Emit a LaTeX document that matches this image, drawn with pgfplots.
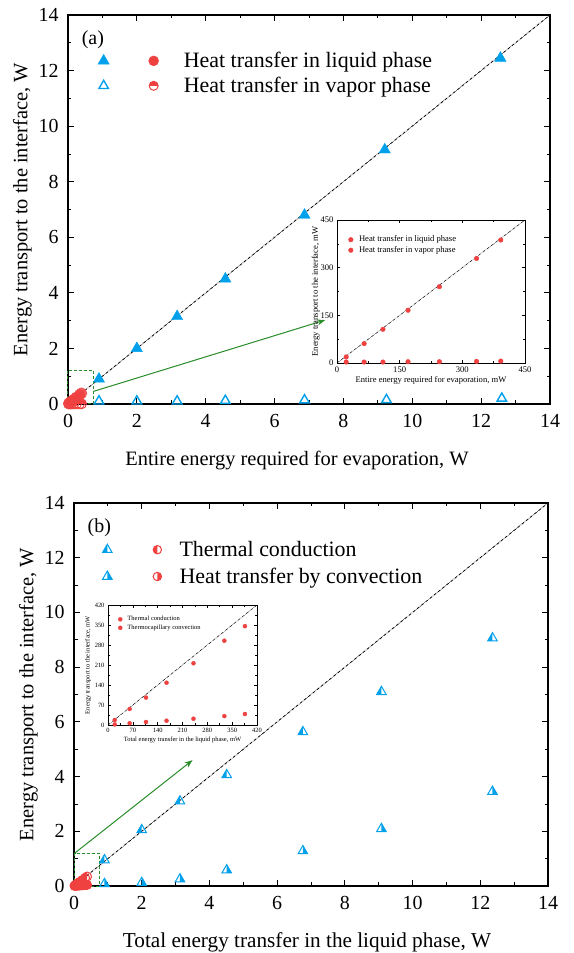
\documentclass[border=0pt]{standalone}
\usepackage{fontspec}
\setmainfont{Liberation Serif}
\usepackage{pgfplots}
\pgfplotsset{compat=1.18}
\usetikzlibrary{plotmarks,arrows.meta}
\definecolor{tblue}{RGB}{0,160,235}
\definecolor{tred}{RGB}{240,65,65}
\definecolor{tgreen}{RGB}{40,140,40}
\newcommand\fs[1]{\fontsize{#1}{#1}\selectfont}
% half-filled triangles
\pgfdeclareplotmark{triL}{%
 \pgfpathmoveto{\pgfqpoint{0pt}{\pgfplotmarksize}}%
 \pgfpathlineto{\pgfqpoint{-.866\pgfplotmarksize}{-.5\pgfplotmarksize}}%
 \pgfpathlineto{\pgfqpoint{0pt}{-.5\pgfplotmarksize}}%
 \pgfpathclose\pgfusepathqfill
 \pgfpathmoveto{\pgfqpoint{0pt}{\pgfplotmarksize}}%
 \pgfpathlineto{\pgfqpoint{-.866\pgfplotmarksize}{-.5\pgfplotmarksize}}%
 \pgfpathlineto{\pgfqpoint{.866\pgfplotmarksize}{-.5\pgfplotmarksize}}%
 \pgfpathclose\pgfusepathqstroke}
\pgfdeclareplotmark{triR}{%
 \pgfpathmoveto{\pgfqpoint{0pt}{\pgfplotmarksize}}%
 \pgfpathlineto{\pgfqpoint{.866\pgfplotmarksize}{-.5\pgfplotmarksize}}%
 \pgfpathlineto{\pgfqpoint{0pt}{-.5\pgfplotmarksize}}%
 \pgfpathclose\pgfusepathqfill
 \pgfpathmoveto{\pgfqpoint{0pt}{\pgfplotmarksize}}%
 \pgfpathlineto{\pgfqpoint{-.866\pgfplotmarksize}{-.5\pgfplotmarksize}}%
 \pgfpathlineto{\pgfqpoint{.866\pgfplotmarksize}{-.5\pgfplotmarksize}}%
 \pgfpathclose\pgfusepathqstroke}
\pgfdeclareplotmark{triO}{%
 \pgfpathmoveto{\pgfqpoint{0pt}{\pgfplotmarksize}}%
 \pgfpathlineto{\pgfqpoint{-.866\pgfplotmarksize}{-.5\pgfplotmarksize}}%
 \pgfpathlineto{\pgfqpoint{.866\pgfplotmarksize}{-.5\pgfplotmarksize}}%
 \pgfpathclose\pgfusepathqstroke}
% half-filled circles
\pgfdeclareplotmark{circL}{%
 \pgfpathmoveto{\pgfqpoint{0pt}{\pgfplotmarksize}}%
 \pgfpatharc{90}{270}{\pgfplotmarksize}%
 \pgfpathclose\pgfusepathqfill
 \pgfpathcircle{\pgfpointorigin}{\pgfplotmarksize}\pgfusepathqstroke}
\pgfdeclareplotmark{circR}{%
 \pgfpathmoveto{\pgfqpoint{0pt}{\pgfplotmarksize}}%
 \pgfpatharc{90}{-90}{\pgfplotmarksize}%
 \pgfpathclose\pgfusepathqfill
 \pgfpathcircle{\pgfpointorigin}{\pgfplotmarksize}\pgfusepathqstroke}
\pgfdeclareplotmark{circT}{%
 \pgfpathmoveto{\pgfqpoint{\pgfplotmarksize}{0pt}}%
 \pgfpatharc{0}{180}{\pgfplotmarksize}%
 \pgfpathclose\pgfusepathqfill
 \pgfpathcircle{\pgfpointorigin}{\pgfplotmarksize}\pgfusepathqstroke}

\pgfplotsset{
 mainax/.style={scale only axis, anchor=south west,
  xmin=0, xmax=14, ymin=0, ymax=14,
  xtick={0,2,...,14}, ytick={0,2,...,14}, minor tick num=1,
  tick align=inside, major tick length=6bp, minor tick length=3.5bp,
  tick style={black, line width=0.8bp},
  axis line style={line width=1.1bp},
  tick label style={font=\fs{20}},
  xticklabel style={yshift=-7bp},
  yticklabel style={xshift=-6bp},
  /pgf/number format/assume math mode=true,
  label style={font=\fs{20.5}},
  xlabel style={yshift=-16bp},
  clip=false,
  legend cell align=left,
  legend style={draw=none, fill=none, font=\fs{22}, row sep=4bp, anchor=west},
 },
 inax/.style={scale only axis, anchor=south west,
  tick align=inside, minor tick num=1,
  major tick length=3bp, minor tick length=1.8bp,
  tick style={black, line width=0.5bp},
  axis line style={line width=0.7bp},
  axis background/.style={fill=white},
  /pgf/number format/assume math mode=true,
  clip=false, legend cell align=left,
 },
}

\begin{document}
\begin{tikzpicture}
\useasboundingbox (0,0) rectangle (574bp,953bp);

% ================= (a) =================
\begin{axis}[mainax, at={(68bp,549bp)}, width=482bp, height=389bp,
  xlabel={Entire energy required for evaporation, W},
  ylabel={Energy transport to the interface, W},
  xlabel style={xshift=-12bp},
  legend style={at={(axis cs:0.78,11.9)}}]
\addlegendimage{legend image code/.code={
  \draw[tblue, fill=tblue] plot[only marks, mark=triangle*, mark size=6.5bp] coordinates {(0bp,0bp)};
  \draw[tred, fill=tred] plot[only marks, mark=*, mark size=5bp] coordinates {(50bp,0bp)};
  \path (78bp,0bp);}}
\addlegendentry{Heat transfer in liquid phase}
\addlegendimage{legend image code/.code={
  \draw[tblue, fill=white, line width=1.4bp] plot[only marks, mark=triO, mark size=5.5bp] coordinates {(0bp,0bp)};
  \draw[tred, fill=tred, line width=1bp] plot[only marks, mark=circT, mark size=4.5bp] coordinates {(50bp,0bp)};
  \path (78bp,0bp);}}
\addlegendentry{Heat transfer in vapor phase}

\addplot[black, densely dashdotted, line width=0.8bp, forget plot] coordinates {(0,0) (14,14)};
\draw[tgreen, densely dashed, line width=1bp] (axis cs:-0.02,0) rectangle (axis cs:0.73,1.2);
\draw[tgreen, line width=1bp, -{Stealth[length=8bp,width=6bp]}] (axis cs:0.73,0.45) -- (axis cs:7.47,3.02);

\addplot[only marks, mark=triangle*, mark size=6.5bp, draw=tblue, fill=tblue, forget plot]
 coordinates {(0.9,0.9) (2.0,2.0) (3.17,3.15) (4.57,4.5) (6.87,6.8) (9.2,9.15) (12.56,12.45)};
\addplot[only marks, mark=triO, mark size=5.5bp, draw=tblue, line width=1.4bp, forget plot]
 coordinates {(0.9,0.1) (2.0,0.1) (3.17,0.1) (4.57,0.12) (6.87,0.14) (9.25,0.15) (12.6,0.2)};
\addplot[only marks, mark=*, mark size=5.5bp, draw=tred, fill=tred, fill opacity=0.85, forget plot]
 coordinates {(0.022,0.019) (0.065,0.061) (0.110,0.106) (0.170,0.166) (0.245,0.240) (0.334,0.329) (0.392,0.387)};
\addplot[only marks, mark=circT, mark size=5bp, draw=tred, fill=tred, line width=0.9bp, forget plot]
 coordinates {(0.022,0.003) (0.065,0.003) (0.110,0.003) (0.170,0.004) (0.245,0.004) (0.334,0.005) (0.392,0.006)};
\node[font=\fs{20}, anchor=west] at (axis cs:0.3,13.1) {(a)};
\end{axis}

% inset (a)
\begin{axis}[inax, at={(337bp,590bp)}, width=188bp, height=143bp,
  xmin=0, xmax=450, ymin=0, ymax=450,
  xtick={0,150,300,450}, ytick={0,150,300,450},
  tick label style={font=\fs{8.6}}, label style={font=\fs{8.6}},
  xlabel={Entire energy required for evaporation, mW},
  ylabel={Energy transport to the interface, mW},
  xlabel style={yshift=3bp}, ylabel style={yshift=-6bp},
  legend style={draw=none, fill=none, font=\fs{8.6}, at={(axis cs:20,413)}, anchor=north west, row sep=-1bp},
  legend image code/.code={\draw[tred, fill=tred] plot[only marks, mark=*, mark size=2.3bp] coordinates {(0bp,0bp)}; \path (6bp,0bp);}]
\addplot[black, densely dashdotted, line width=0.5bp, forget plot] coordinates {(0,0) (450,450)};
\addplot[only marks, mark=*, mark size=2.3bp, draw=tred, fill=tred]
 coordinates {(22,19) (65,61) (110,106) (170,166) (245,240) (334,329) (392,387)};
\addlegendentry{Heat transfer in liquid phase}
\addplot[only marks, mark=*, mark size=2.3bp, draw=tred, fill=tred]
 coordinates {(22,3) (65,3) (110,3) (170,4) (245,4) (334,5) (392,6)};
\addlegendentry{Heat transfer in vapor phase}
\end{axis}

% ================= (b) =================
\begin{axis}[mainax, at={(74bp,67bp)}, width=474bp, height=383bp,
  xlabel={Total energy transfer in the liquid phase, W},
  ylabel={Energy transport to the interface, W},
  xlabel style={xshift=-4bp, font=\fs{21.3}},
  legend style={at={(axis cs:0.75,11.8)}, row sep=6bp}]
\addlegendimage{legend image code/.code={
  \draw[tblue, fill=tblue, line width=1bp] plot[only marks, mark=triL, mark size=5.5bp] coordinates {(0bp,0bp)};
  \draw[tred, fill=tred, line width=1bp] plot[only marks, mark=circL, mark size=4.2bp] coordinates {(50bp,0bp)};
  \path (70bp,0bp);}}
\addlegendentry{Thermal conduction}
\addlegendimage{legend image code/.code={
  \draw[tblue, fill=tblue, line width=1bp] plot[only marks, mark=triR, mark size=5.5bp] coordinates {(0bp,0bp)};
  \draw[tred, fill=tred, line width=1bp] plot[only marks, mark=circR, mark size=4.2bp] coordinates {(50bp,0bp)};
  \path (70bp,0bp);}}
\addlegendentry{Heat transfer by convection}

\addplot[black, densely dashdotted, line width=0.8bp, forget plot] coordinates {(0,0) (14,14)};
\draw[tgreen, densely dashed, line width=1bp] (axis cs:0.02,0) rectangle (axis cs:0.74,1.2);
\draw[tgreen, line width=1bp, -{Stealth[length=8bp,width=6bp]}] (axis cs:0.02,1.2) -- (axis cs:3.5,4.6);

\addplot[only marks, mark=triL, mark size=5.5bp, draw=tblue, fill=tblue, line width=1bp, forget plot]
 coordinates {(0.9,0.95) (2.0,2.05) (3.13,3.1) (4.51,4.06) (6.76,5.63) (9.08,7.1) (12.36,9.06)};
\addplot[only marks, mark=triR, mark size=5.5bp, draw=tblue, fill=tblue, line width=1bp, forget plot]
 coordinates {(0.9,0.08) (2.0,0.12) (3.13,0.25) (4.51,0.58) (6.76,1.28) (9.08,2.09) (12.36,3.45)};
\addplot[only marks, mark=circL, mark size=4.5bp, draw=tred, fill=tred, line width=1bp, forget plot]
 coordinates {(0.019,0.0175) (0.061,0.056) (0.107,0.096) (0.165,0.148) (0.241,0.216) (0.328,0.295) (0.386,0.346)};
\addplot[only marks, mark=circR, mark size=4.5bp, draw=tred, fill=tred, line width=1bp, forget plot]
 coordinates {(0.019,0.002) (0.061,0.006) (0.107,0.0105) (0.165,0.015) (0.241,0.022) (0.328,0.031) (0.386,0.0385)};
\node[font=\fs{20}, anchor=west] at (axis cs:0.3,13.1) {(b)};
\end{axis}

% inset (b)
\begin{axis}[inax, at={(108bp,228bp)}, width=149bp, height=120bp,
  xmin=0, xmax=420, ymin=0, ymax=420,
  xtick={0,70,...,420}, ytick={0,70,...,420},
  tick label style={font=\fs{6.5}}, label style={font=\fs{6.5}},
  xlabel={Total energy transfer in the liquid phase, mW},
  ylabel={Energy transport to the interface, mW},
  xlabel style={yshift=3bp}, ylabel style={yshift=-3bp},
  legend style={draw=none, fill=none, font=\fs{6.5}, at={(axis cs:20,395)}, anchor=north west, row sep=-1.5bp},
  legend image code/.code={\draw[tred, fill=tred] plot[only marks, mark=*, mark size=2bp] coordinates {(0bp,0bp)}; \path (5bp,0bp);}]
\addplot[black, densely dashdotted, line width=0.5bp, forget plot] coordinates {(0,0) (420,420)};
\addplot[only marks, mark=*, mark size=2bp, draw=tred, fill=tred]
 coordinates {(19,17.5) (61,56) (107,96) (165,148) (241,216) (328,295) (386,346)};
\addlegendentry{Thermal conduction}
\addplot[only marks, mark=*, mark size=2bp, draw=tred, fill=tred]
 coordinates {(19,2) (61,6) (107,10.5) (165,15) (241,22) (328,31) (386,38.5)};
\addlegendentry{Thermocapillary convection}
\end{axis}
\end{tikzpicture}
\end{document}
